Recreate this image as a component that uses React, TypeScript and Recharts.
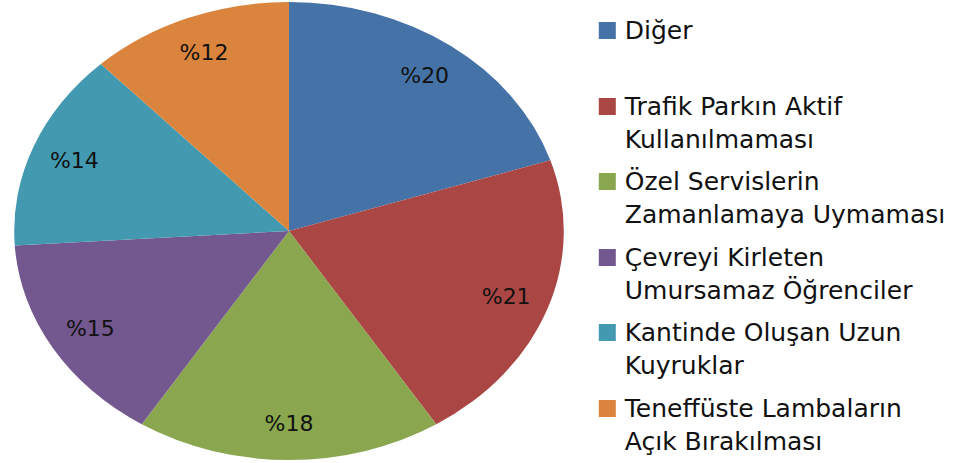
import React from 'react';
import { PieChart, Pie, Cell, Legend } from 'recharts';

// Slices, clockwise from 12 o'clock
const categories = [
  'Diğer',
  'Trafik Parkın Aktif Kullanılmaması',
  'Özel Servislerin Zamanlamaya Uymaması',
  'Çevreyi Kirleten Umursamaz Öğrenciler',
  'Kantinde Oluşan Uzun Kuyruklar',
  'Teneffüste Lambaların Açık Bırakılması',
];
const values = [20, 21, 18, 15, 14, 12];
const colors = ['#4673A7', '#AA4644', '#8AA64E', '#72588E', '#4299B0', '#DB843D'];

const data = categories.map((name, i) => ({ name, value: values[i] }));

// the original picture is stretched horizontally, so the pie is an ellipse
const SX = 1.2;
const W = 976;
const H = 463;
const RAD = Math.PI / 180;
const FONT = '"DejaVu Sans", sans-serif';

const renderLabel = ({ cx, cy, midAngle, outerRadius, value }: any) => {
  const r = outerRadius * 0.84;
  const x = cx + r * Math.cos(-midAngle * RAD);
  const y = cy + r * Math.sin(-midAngle * RAD);
  return (
    <text
      transform={`translate(${x} ${y}) scale(${1 / SX} 1)`}
      textAnchor="middle"
      dominantBaseline="central"
      fill="#111"
      fontSize={22}
      fontFamily={FONT}
    >
      %{value}
    </text>
  );
};

const LegendContent = ({ payload }: any) => {
  // keep the slice order, not alphabetical
  const items = [...(payload || [])].sort(
    (a: any, b: any) => categories.indexOf(a.value) - categories.indexOf(b.value)
  );
  return (
    <div style={{ fontFamily: FONT, fontSize: 25, lineHeight: '33px', color: '#111' }}>
      {items.map((entry: any, i: number) => (
        <div key={i} style={{ display: 'flex', alignItems: 'flex-start', height: 75.5 }}>
          <span
            style={{
              width: 17,
              height: 17,
              marginTop: 8,
              marginRight: 9,
              background: entry.color,
              flex: 'none',
            }}
          />
          <span style={{ width: 335 }}>{entry.value}</span>
        </div>
      ))}
    </div>
  );
};

export default function App() {
  return (
    <div style={{ position: 'absolute', left: 0, top: 0, width: W, height: H, background: '#fff', overflow: 'hidden' }}>
      <div style={{ width: W / SX, height: H, transform: `scaleX(${SX})`, transformOrigin: '0 0' }}>
        <PieChart width={W / SX} height={H} margin={{ top: 0, right: 0, bottom: 0, left: 0 }}>
          <Pie
            data={data}
            dataKey="value"
            nameKey="name"
            cx={289 / SX}
            cy={231}
            outerRadius={229}
            startAngle={90}
            endAngle={-270}
            stroke="none"
            label={renderLabel}
            labelLine={false}
            isAnimationActive={false}
          >
            {data.map((d, i) => (
              <Cell key={d.name} fill={colors[i]} />
            ))}
          </Pie>
          <Legend
            layout="vertical"
            align="right"
            verticalAlign="top"
            content={<LegendContent />}
            wrapperStyle={{
              position: 'absolute',
              left: 599 / SX,
              top: 14,
              width: 380,
              transform: `scaleX(${1 / SX})`,
              transformOrigin: '0 0',
            }}
          />
        </PieChart>
      </div>
    </div>
  );
}
